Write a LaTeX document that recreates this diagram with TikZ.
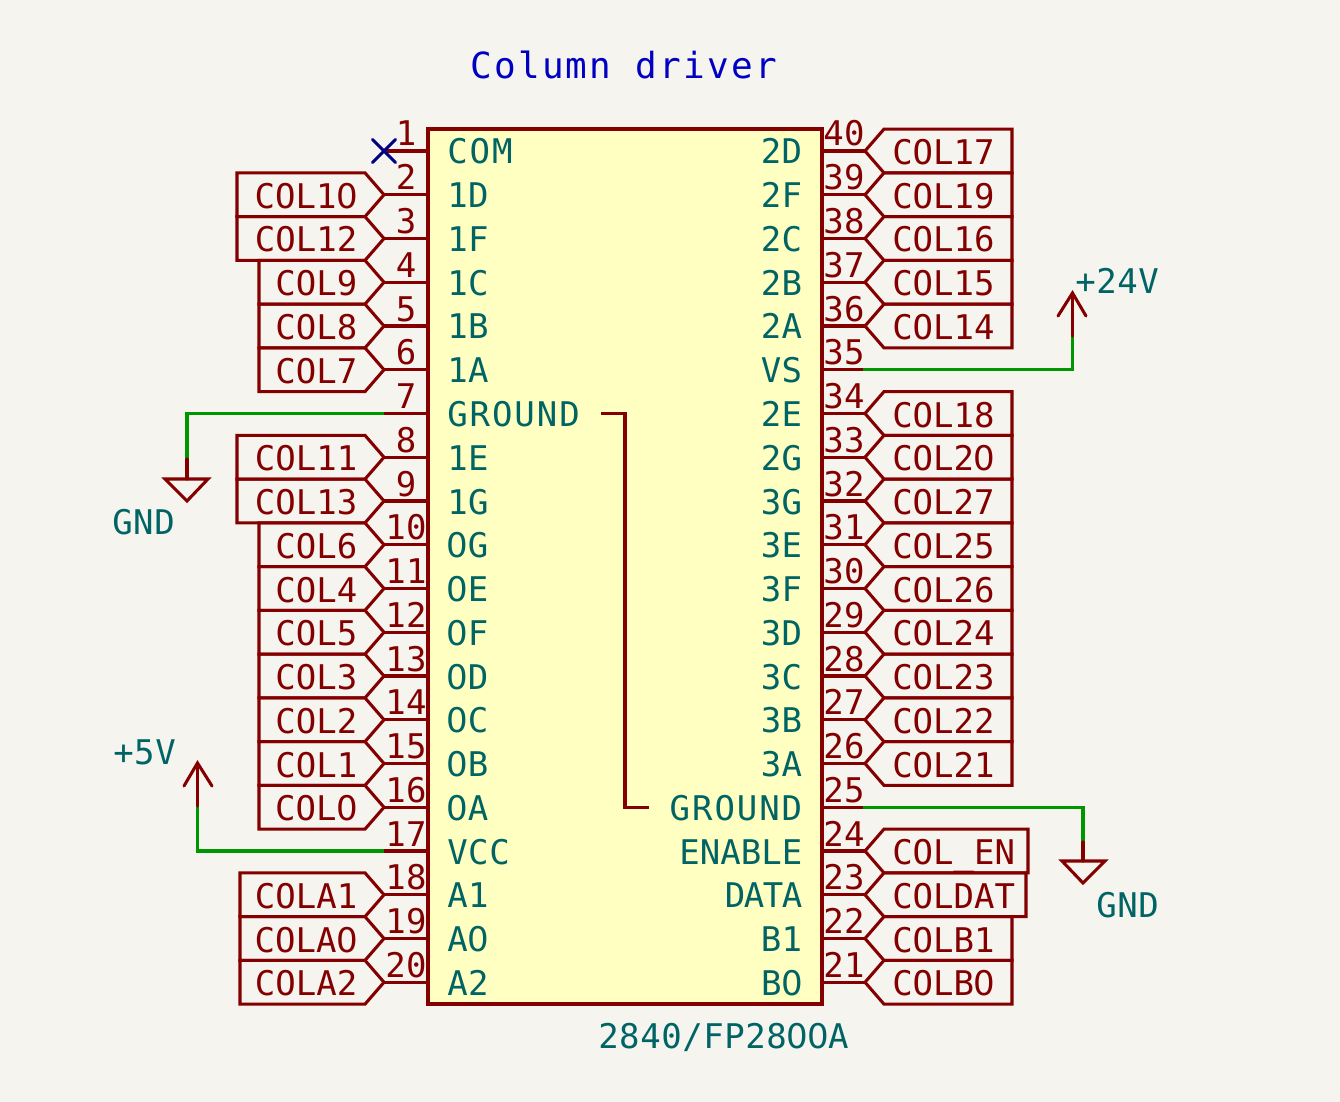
\documentclass[tikz,border=0pt]{standalone}
\usepackage{fontspec}
\setmainfont{DejaVu Sans Mono}
\newfontfamily\kifont[LetterSpace=1.6]{DejaVu Sans Mono}
\newfontfamily\kilabel{DejaVu Sans Mono}
\newfontfamily\kiwide[LetterSpace=5.7]{DejaVu Sans Mono}
\newfontfamily\kinarrow[LetterSpace=-4.4]{DejaVu Sans Mono}
\newfontfamily\kizero{DejaVu Sans}
\newfontfamily\kititle[LetterSpace=6.3]{DejaVu Sans Mono}
\definecolor{kired}{HTML}{840000}
\definecolor{kiteal}{HTML}{006464}
\definecolor{kiblue}{HTML}{0000C2}
\definecolor{kinavy}{HTML}{000084}
\definecolor{kigreen}{HTML}{009600}
\definecolor{kibg}{HTML}{F5F4EF}
\definecolor{kifill}{HTML}{FFFFC2}
\newcommand\zr{\makebox[15.5pt]{\kizero 0}}
\tikzset{
  kitext/.style={inner sep=0pt,font=\fontsize{25.5pt}{30pt}\kifont},
  lbltext/.style={inner sep=0pt,font=\fontsize{25.5pt}{30pt}\kilabel,text=kired},
  pintext/.style={kitext,text=kiteal},
  numtext/.style={kitext,text=kired},
  redline/.style={draw=kired,line width=2.3pt,line join=miter},
  wireline/.style={draw=kigreen,line width=2.3pt,line join=miter},
  powerline/.style={draw=kired,line width=2.3pt,line join=miter,line cap=round},
}
\begin{document}
\begin{tikzpicture}[x=0.75pt,y=-0.75pt]
\useasboundingbox (0,0) rectangle (1340,1102);
\fill[kibg] (0,0) rectangle (1340,1102);
% IC body
\node[redline,fill=kifill,rectangle,minimum width=295.5pt,minimum height=656.25pt,inner sep=0pt,outer sep=0pt,anchor=north west] (ic) at (428,129) {};
% left pins
\foreach \n/\pname in {1/{\kiwide COM},2/1D,3/1F,4/1C,5/1B,6/1A,7/{\kiwide GROUND},8/1E,9/1G,10/\zr G,11/\zr E,12/\zr F,13/\zr D,14/\zr C,15/\zr B,16/\zr A,17/VCC,18/A1,19/A\zr,20/A2}{
  \pgfmathsetmacro\py{151+(\n-1)*43.75}
  \coordinate (pin\n) at (428,\py);
  \coordinate (tip\n) at (384,\py);
  \draw[redline] (pin\n) -- (tip\n);
  \node[numtext,anchor=base] (num\n) at (406,\py-5) {\n};
  \node[pintext,anchor=base west] (name\n) at (447,\py+13) {\pname};
}
% right pins
\foreach \n/\pname in {40/2D,39/2F,38/2C,37/2B,36/2A,35/VS,34/2E,33/2G,32/3G,31/3E,30/3F,29/3D,28/3C,27/3B,26/3A,25/{\kiwide GROUND},24/{\kilabel ENABLE},23/{\kinarrow DATA},22/B1,21/B\zr}{
  \pgfmathsetmacro\py{151+(40-\n)*43.75}
  \coordinate (pin\n) at (822,\py);
  \coordinate (tip\n) at (865,\py);
  \draw[redline] (pin\n) -- (tip\n);
  \node[numtext,anchor=base] (num\n) at (844,\py-5) {\n};
  \node[pintext,anchor=base east] (name\n) at (802.5,\py+13) {\pname};
}
% left labels
\foreach \n/\lx/\ltext in {2/237/COL1\zr,3/237/COL12,4/259/COL9,5/259/COL8,6/259/COL7,8/237/COL11,9/237/COL13,10/259/COL6,11/259/COL4,12/259/COL5,13/259/COL3,14/259/COL2,15/259/COL1,16/259/COL\zr,18/240/COLA1,19/240/COLA\zr,20/240/COLA2}{
  \pgfmathsetmacro\py{151+(\n-1)*43.75}
  \draw[redline] (tip\n) -- (365,\py-21.9) -- (\lx,\py-21.9) -- (\lx,\py+21.9) -- (365,\py+21.9) -- cycle;
  \node[lbltext,anchor=base east] (lab\n) at (357.5,\py+13.5) {\ltext};
}
% right labels
\foreach \n/\rx/\ltext in {40/1012/COL17,39/1012/COL19,38/1012/COL16,37/1012/COL15,36/1012/COL14,34/1012/COL18,33/1012/COL2\zr,32/1012/COL27,31/1012/COL25,30/1012/COL26,29/1012/COL24,28/1012/COL23,27/1012/COL22,26/1012/COL21,24/1028/COL\_EN,23/1026/COLDAT,22/1012/COLB1,21/1012/COLB\zr}{
  \pgfmathsetmacro\py{151+(40-\n)*43.75}
  \draw[redline] (tip\n) -- (884,\py-21.9) -- (\rx,\py-21.9) -- (\rx,\py+21.9) -- (884,\py+21.9) -- cycle;
  \node[lbltext,anchor=base west] (lab\n) at (892,\py+13.5) {\ltext};
}
% no-connect
\coordinate (nc) at (384,151);
\draw[draw=kinavy,line width=2.3pt,line cap=round] (372.5,139.5) -- (395.5,162.5) (372.5,162.5) -- (395.5,139.5);
% internal ground link
\coordinate (ga) at (601,413.5);
\coordinate (gb) at (649,807.25);
\draw[redline] (ga) -| (625,600) |- (gb);
% power: left GND
\coordinate (gl1) at (187,459);
\coordinate (gl2) at (187,479);
\draw[wireline] (tip7) -| (gl1);
\draw[powerline] (gl1) -- (gl2);
\draw[powerline] (165,479) -- (208,479) -- (187,501) -- cycle;
\node[pintext,anchor=base west] (gndl) at (112,534) {GND};
% power: right GND
\coordinate (gr1) at (1083,842);
\coordinate (gr2) at (1083,861);
\draw[wireline] ([xshift=-1.5pt]tip25) -| (gr1);
\draw[powerline] (gr1) -- (gr2);
\draw[powerline] (1062,861) -- (1105,861) -- (1083,883) -- cycle;
\node[pintext,anchor=base west] (gndr) at (1096,917) {GND};
% power: +5V
\coordinate (v51) at (197.5,806);
\coordinate (v52) at (197.5,763);
\draw[wireline] (tip17) -| (v51);
\draw[powerline] (v51) -- (v52);
\draw[powerline] (184,786) -- (v52) -- (212,786);
\node[pintext,anchor=base west] (pv5) at (113,764) {+5V};
% power: +24V
\coordinate (v241) at (1072.5,336);
\coordinate (v242) at (1072.5,293);
\draw[wireline] ([xshift=-1.5pt]tip35) -| (v241);
\draw[powerline] (v241) -- (v242);
\draw[powerline] (1058,316) -- (v242) -- (1086,316);
\node[pintext,anchor=base west] (pv24) at (1075,294) {+24V};
% captions
\node[inner sep=0pt,anchor=base west,text=kiblue,font=\fontsize{27pt}{32pt}\kititle] (title) at (470,79) {Column driver};
\node[pintext,anchor=base west] (refname) at (598,1048) {2840/FP28\zr\zr A};
\end{tikzpicture}
\end{document}
